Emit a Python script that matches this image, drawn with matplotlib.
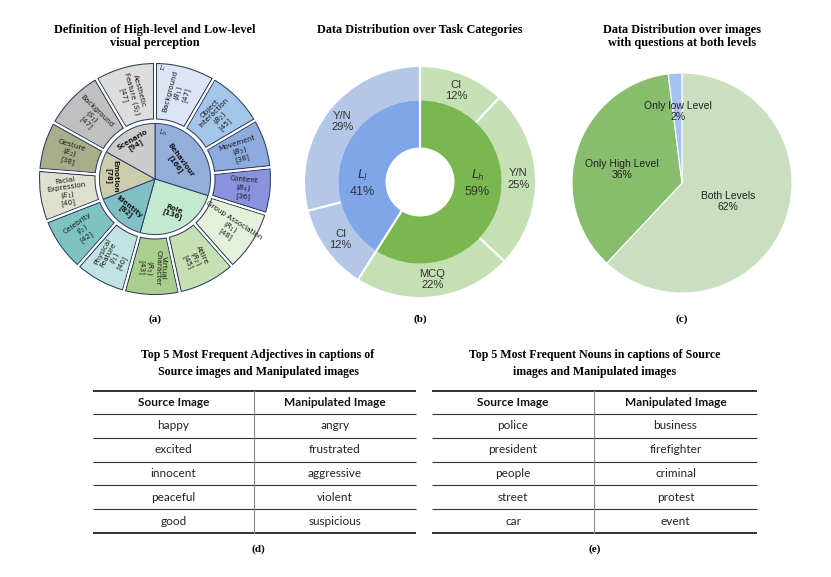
import numpy as np
import matplotlib
matplotlib.use("Agg")
import matplotlib.pyplot as plt
from matplotlib.patches import Wedge, Circle

W, H = 831, 577
fig = plt.figure(figsize=(W / 100, H / 100), dpi=100)
fig.patch.set_facecolor("white")

# ---------------- data ----------------
# (a) sunburst
inner_a_labels = ["Behaviour", "Role", "Identity", "Emotion", "Scenario"]
inner_a_counts = [166, 136, 82, 78, 94]
outer_a_labels = ["Background\n($B_1$)", "Object\nInteraction\n($B_2$)", "Movement\n($B_3$)",
                  "Content\n($B_4$)", "Group Association\n($R_1$)", "Attire\n($R_2$)",
                  "Virtual\nCharacter\n($R_3$)", "Physical\nFeature\n($I_1$)", "Celebrity\n($I_2$)",
                  "Facial\nExpression\n($E_1$)", "Gesture\n($E_2$)", "Background\n($S_1$)",
                  "Aesthetic\nFeature ($S_2$)"]
outer_a_counts = [47, 45, 38, 36, 48, 45, 43, 40, 42, 40, 38, 47, 47]

# (b) task categories
inner_b_labels = ["$L_h$", "$L_l$"]
inner_b_pct = [59, 41]
outer_b_labels = ["CI", "Y/N", "MCQ", "CI", "Y/N"]
outer_b_pct = [12, 25, 22, 12, 29]

# (c) images with questions at both levels
c_labels = ["Both Levels", "Only High Level", "Only low Level"]
c_pct = [62, 36, 2]

# (d), (e) tables
table_headers = ["Source Image", "Manipulated Image"]
adj_source = ["happy", "excited", "innocent", "peaceful", "good"]
adj_manip = ["angry", "frustrated", "aggressive", "violent", "suspicious"]
noun_source = ["police", "president", "people", "street", "car"]
noun_manip = ["business", "firefighter", "criminal", "protest", "event"]

# ---------------- styles ----------------
inner_a_colors = ["#93aedb", "#c3ead0", "#80bfc6", "#cdcdad", "#cccccc"]
outer_a_colors = ["#dce4f5", "#a4c6ea", "#8eaadf", "#8892de",
                  "#e4f0da", "#c6e0b4", "#a9cf8e",
                  "#c2e3e3", "#7fc3c0",
                  "#dfe1cf", "#a8ae8a",
                  "#c0c0c0", "#dddddd"]
inner_a_rot = [-54, -20, -40, -90, 30]
inner_a_r = [0.24, 0.32, 0.35, 0.37, 0.36]
dark = "#2c3e5c"

serif = ["Liberation Serif", "DejaVu Serif"]
sans = ["Liberation Sans", "DejaVu Sans"]
tfont = ["Lato", "DejaVu Sans"]

ov = fig.add_axes([0, 0, 1, 1])
ov.set_xlim(0, W)
ov.set_ylim(H, 0)
ov.axis("off")
ov.set_zorder(5)
ov.patch.set_alpha(0)


def pie_axes(cx, cy, r):
    ax = fig.add_axes([(cx - r) / W, 1 - (cy + r) / H, 2 * r / W, 2 * r / H])
    ax.set_xlim(-1, 1)
    ax.set_ylim(-1, 1)
    ax.axis("off")
    return ax


# ---------------- (a) ----------------
axa = pie_axes(155, 179, 117)
total_a = sum(outer_a_counts)
axa.pie(outer_a_counts, radius=1.0, startangle=90, counterclock=False, colors=outer_a_colors,
        wedgeprops=dict(width=0.5, edgecolor=dark, linewidth=2.9))
axa.pie(outer_a_counts, radius=1.0, startangle=90, counterclock=False,
        wedgeprops=dict(width=0.5, fill=False, edgecolor="white", linewidth=1.4))
axa.add_patch(Wedge((0, 0), 1.2, 0, 360, width=0.2, facecolor="white", edgecolor="none",
                    clip_on=False))
axa.add_patch(Circle((0, 0), 0.5, facecolor="white", edgecolor="none", clip_on=False))
axa.pie(inner_a_counts, radius=0.475, startangle=90, counterclock=False, colors=inner_a_colors,
        wedgeprops=dict(edgecolor=dark, linewidth=0.7))
axa.set_xlim(-1, 1)
axa.set_ylim(-1, 1)

cum = np.concatenate([[0], np.cumsum(outer_a_counts)])
for i, (lab, v) in enumerate(zip(outer_a_labels, outer_a_counts)):
    mid = 90 - (cum[i] + v / 2) / total_a * 360
    rot = mid
    if mid < -95:
        rot = mid + 180
    if mid > 95:
        rot = mid - 180
    r = 0.76
    axa.text(r * np.cos(np.radians(mid)), r * np.sin(np.radians(mid)), f"{lab}\n[{v}]",
             ha="center", va="center", rotation=rot, rotation_mode="anchor",
             fontsize=5.2, linespacing=1.0, color="#1a1a1a", zorder=5)

cumi = np.concatenate([[0], np.cumsum(inner_a_counts)])
for i, (lab, v) in enumerate(zip(inner_a_labels, inner_a_counts)):
    mid = 90 - (cumi[i] + v / 2) / total_a * 360
    r = inner_a_r[i]
    axa.text(r * np.cos(np.radians(mid)), r * np.sin(np.radians(mid)), f"{lab}\n[{v}]",
             ha="center", va="center", rotation=inner_a_rot[i], rotation_mode="anchor",
             fontsize=5.0, fontweight="bold", linespacing=1.0, color="#1a1a1a", zorder=5)

axa.text(0.40 * np.cos(np.radians(80)), 0.40 * np.sin(np.radians(80)), "$L_h$",
         ha="center", va="center", fontsize=5, color="#333333", zorder=5)
axa.text(0.94 * np.cos(np.radians(86)), 0.94 * np.sin(np.radians(86)), "$L_l$",
         ha="center", va="center", fontsize=5, color="#333333", zorder=5)

# ---------------- (b) ----------------
axb = pie_axes(420, 182, 115)
green_l, blue_l = "#c5e0b4", "#b4c7e7"
green_d, blue_d = "#7ab84f", "#80a6ea"
outer_b_colors = [green_l, green_l, green_l, blue_l, blue_l]
inner_b_colors = [green_d, blue_d]
r_in, r_mid = 0.30, 0.71
axb.pie(outer_b_pct, radius=1.0, startangle=90, counterclock=False, colors=outer_b_colors,
        wedgeprops=dict(width=1.0 - r_mid, edgecolor="none"))
axb.pie(inner_b_pct, radius=r_mid, startangle=90, counterclock=False, colors=inner_b_colors,
        wedgeprops=dict(width=r_mid - r_in, edgecolor="none"))
axb.set_xlim(-1, 1)
axb.set_ylim(-1, 1)
for vals, r0, r1 in [(outer_b_pct, r_mid, 1.02), (inner_b_pct, r_in, r_mid)]:
    for c in np.cumsum(vals):
        a = np.radians(90 - c / sum(vals) * 360)
        axb.plot([r0 * np.cos(a), r1 * np.cos(a)], [r0 * np.sin(a), r1 * np.sin(a)],
                 color="white", lw=1.6, solid_capstyle="butt", clip_on=False)
cb = np.concatenate([[0], np.cumsum(outer_b_pct)])
for i, (lab, v) in enumerate(zip(outer_b_labels, outer_b_pct)):
    mid = np.radians(90 - (cb[i] + v / 2) * 3.6)
    axb.text(0.855 * np.cos(mid), 0.855 * np.sin(mid), f"{lab}\n{v}%", ha="center", va="center",
             fontsize=8, family=sans, color="#333333", linespacing=1.15)
cbi = np.concatenate([[0], np.cumsum(inner_b_pct)])
for i, (lab, v) in enumerate(zip(inner_b_labels, inner_b_pct)):
    mid = np.radians(90 - (cbi[i] + v / 2) * 3.6)
    x = 0.5 * np.sign(np.cos(mid))
    axb.text(x, 0.06, lab, ha="center", va="center", fontsize=9, color="#333333")
    axb.text(x, -0.09, f"{v}%", ha="center", va="center", fontsize=9, family=sans, color="#333333")

# ---------------- (c) ----------------
axc = pie_axes(682, 183, 110)
axc.pie(c_pct, radius=1.0, startangle=90, counterclock=False,
        colors=["#c9dfc0", "#88bd6e", "#a6c2f0"],
        wedgeprops=dict(edgecolor="white", linewidth=0.8))
axc.set_xlim(-1, 1)
axc.set_ylim(-1, 1)
cc = np.concatenate([[0], np.cumsum(c_pct)])
c_dist = [0.45, 0.57, 0.65]
for i, (lab, v) in enumerate(zip(c_labels, c_pct)):
    mid = np.radians(90 - (cc[i] + v / 2) * 3.6)
    axc.text(c_dist[i] * np.cos(mid), c_dist[i] * np.sin(mid) - (0.05 if i == 1 else 0),
             f"{lab}\n{v}%", ha="center", va="center",
             fontsize=7.5, family=sans, color="#222222", linespacing=1.15)

# ---------------- titles / captions ----------------
ov.text(155, 36.5, "Definition of High-level and Low-level\nvisual perception", ha="center",
        va="center", fontsize=8.8, fontweight="bold", family=serif, linespacing=1.2)
ov.text(420, 30, "Data Distribution over Task Categories", ha="center", va="center",
        fontsize=8.8, fontweight="bold", family=serif)
ov.text(682, 36.5, "Data Distribution over images\nwith questions at both levels", ha="center",
        va="center", fontsize=8.8, fontweight="bold", family=serif, linespacing=1.2)
for x, t in [(155, "(a)"), (420, "(b)"), (682, "(c)")]:
    ov.text(x, 319, t, ha="center", va="center", fontsize=8, fontweight="bold", family=serif)

# ---------------- tables ----------------
def draw_table(x0, x1, xdiv, title_x, title, col1, col2, cap):
    top, head_h, row_h = 391, 23, 23.8
    ov.text(title_x, 363.5, title, ha="center", va="center", fontsize=8.6,
            fontweight="bold", family=serif, linespacing=1.6)
    n = len(col1)
    bottom = top + head_h + n * row_h
    ov.plot([x0, x1], [top, top], color="#222222", lw=1.3, solid_capstyle="butt")
    ov.plot([x0, x1], [bottom, bottom], color="#222222", lw=1.3, solid_capstyle="butt")
    for k in range(n):
        y = top + head_h + k * row_h
        ov.plot([x0, x1], [y, y], color="#333333", lw=0.8, solid_capstyle="butt")
    ov.plot([xdiv, xdiv], [top, bottom], color="#888888", lw=0.8)
    c1, c2 = (x0 + xdiv) / 2, (xdiv + x1) / 2
    ov.text(c1, top + head_h / 2, table_headers[0], ha="center", va="center",
            fontsize=8.6, fontweight="bold", family=tfont, color="#111111")
    ov.text(c2, top + head_h / 2, table_headers[1], ha="center", va="center",
            fontsize=8.6, fontweight="bold", family=tfont, color="#111111")
    for k, (a, b) in enumerate(zip(col1, col2)):
        y = top + head_h + (k + 0.5) * row_h
        ov.text(c1, y, a, ha="center", va="center", fontsize=8.5, family=tfont, color="#222222")
        ov.text(c2, y, b, ha="center", va="center", fontsize=8.5, family=tfont, color="#222222")
    ov.text(title_x, 549, cap, ha="center", va="center", fontsize=8,
            fontweight="bold", family=serif)


draw_table(93, 416, 254, 258,
           "Top 5 Most Frequent Adjectives in captions of\nSource images and Manipulated images",
           adj_source, adj_manip, "(d)")
draw_table(432, 757, 594, 595,
           "Top 5 Most Frequent Nouns in captions of Source\nimages and Manipulated images",
           noun_source, noun_manip, "(e)")

fig.savefig("out.png", dpi=100, facecolor="white")
